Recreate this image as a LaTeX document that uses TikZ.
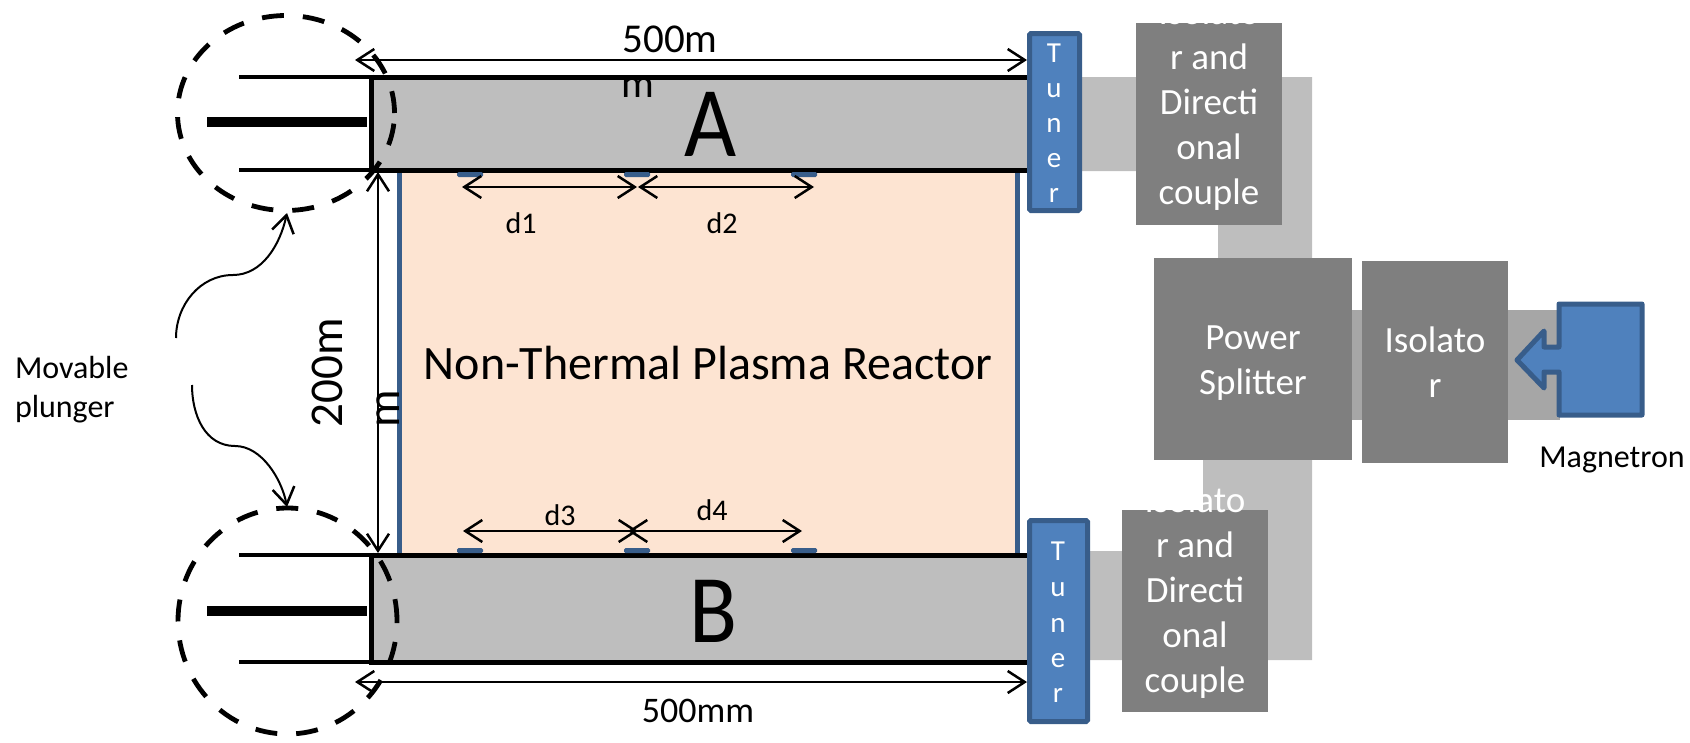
\documentclass[tikz,border=0pt]{standalone}
\usepackage{fontspec}
\setmainfont{Carlito}
\usetikzlibrary{arrows.meta,shapes.geometric}
\definecolor{guide}{HTML}{BEBEBE}
\definecolor{guidedark}{HTML}{A6A6A6}
\definecolor{boxgray}{HTML}{7F7F7F}
\definecolor{blfill}{HTML}{4F81BD}
\definecolor{blline}{HTML}{385D8A}
\definecolor{reactor}{HTML}{FDE4D2}
\newcommand{\fs}[1]{\fontsize{#1pt}{#1pt}\selectfont}
\tikzset{
  x=1pt,y=-1pt,
  txt/.style={inner sep=0pt,outer sep=0pt,anchor=base},
  graybox/.style={fill=boxgray,draw=none},
  guidefill/.style={fill=guide,draw=none},
  tunerbox/.style={fill=blfill,draw=blline,line width=5pt,rounded corners=1.5pt},
  sensor/.style={fill=blline,draw=none,rounded corners=1.5pt},
  wall/.style={line width=5pt,draw=black},
  thinwall/.style={line width=4pt,draw=black},
  bar/.style={line width=10pt,draw=black},
  dim/.style={line width=2pt,draw=black,{Straight Barb[length=17pt,width=22pt,line width=2.5pt]}-{Straight Barb[length=17pt,width=22pt,line width=2.5pt]}},
  curvearrow/.style={line width=2pt,draw=black,-{Straight Barb[length=17pt,width=22pt,line width=2.5pt]}},
  plunger/.style={shape=ellipse,draw=black,line width=4.8pt,dash pattern=on 22pt off 19pt,inner sep=0pt,fill=none},
  isotext/.style={inner sep=0pt,outer sep=0pt,text=white,align=center,font=\fontsize{37pt}{45pt}\selectfont},
  tunertext/.style={txt,text=white,font=\fs{29}},
  small/.style={txt,font=\fs{30}},
}
\begin{document}
\begin{tikzpicture}
\useasboundingbox (0,0) rectangle (1690,742);
% guides
\fill[guide] (1030,77) -- (1312,77) -- (1312,258) -- (1218,258) -- (1218,171) -- (1030,171) -- cycle;
\fill[guide] (1030,551) -- (1203,551) -- (1203,460) -- (1312,460) -- (1312,660) -- (1030,660) -- cycle;
\fill[guidedark] (1345,310) rectangle (1560,420);
% reactor
\fill[reactor] (399,170) rectangle (1017,555);
\draw[blline,line width=5pt] (399,170) -- (399,555) (1017,170) -- (1017,555);
% waveguides
\fill[guide] (371,77) rectangle (1030,170);
\fill[guide] (371,555) rectangle (1030,662);
\draw[wall] (371,77) -- (1030,77);
\draw[wall] (371,170) -- (1030,170);
\draw[wall] (371,555) -- (1030,555);
\draw[wall] (371,662) -- (1030,662);
\draw[wall] (371,74.5) -- (371,172.5);
\draw[wall] (371,552.5) -- (371,664.5);
\draw[thinwall] (239,77) -- (371,77) (239,170) -- (371,170);
\draw[thinwall] (239,555) -- (371,555) (239,662) -- (371,662);
\draw[bar] (207,122) -- (367,122);
\draw[bar] (207,611) -- (367,611);
% sensors
\foreach \xx in {457,624,791}{
  \fill[sensor] (\xx,172) rectangle (\xx+26,177);
  \fill[sensor] (\xx,548) rectangle (\xx+26,553);
}
% boxes
\node[graybox,anchor=north west,minimum width=146pt,minimum height=202pt,inner sep=0pt] (isoA) at (1136,23) {};
\node[graybox,anchor=north west,minimum width=146pt,minimum height=202pt,inner sep=0pt] (isoB) at (1122,510) {};
\node[graybox,anchor=north west,minimum width=198pt,minimum height=202pt,inner sep=0pt] (split) at (1154,258) {};
\node[graybox,anchor=north west,minimum width=146pt,minimum height=202pt,inner sep=0pt] (iso) at (1362,261) {};
\node[tunerbox,anchor=north west,minimum width=50pt,minimum height=177pt,inner sep=0pt] (tunA) at (1027,31) {};
\node[tunerbox,anchor=north west,minimum width=58pt,minimum height=201pt,inner sep=0pt] (tunB) at (1027,518) {};
% magnetron
\draw[blline,line width=5pt,fill=blfill,line join=round] (1559,304) -- (1642,304) -- (1642,415) -- (1559,415) -- (1559,372) -- (1544,372) -- (1544,388) -- (1517,360) -- (1544,331) -- (1544,347) -- (1559,347) -- cycle;
% plungers
\node[plunger,minimum width=217pt,minimum height=195pt] (plA) at (286,113) {};
\node[plunger,minimum width=219pt,minimum height=226pt] (plB) at (287.5,621) {};
% dimension coordinates
\coordinate (t1) at (355,60); \coordinate (t2) at (1027,60);
\coordinate (b1) at (355,682); \coordinate (b2) at (1027,682);
\coordinate (v1) at (378,172); \coordinate (v2) at (378,553);
\coordinate (d1a) at (462,187); \coordinate (d1b) at (637,187);
\coordinate (d2a) at (638,187); \coordinate (d2b) at (814,187);
\coordinate (d3a) at (463,531); \coordinate (d3b) at (638,531);
\coordinate (d4a) at (628,531); \coordinate (d4b) at (802,531);
\draw[dim] (t1) -- (t2);
\draw[dim] (b1) -- (b2);
\draw[dim] (v1) -- (v2);
\draw[dim] (d1a) -- (d1b);
\draw[dim] (d2a) -- (d2b);
\draw[dim] (d3a) -- (d3b);
\draw[dim] (d4a) -- (d4b);
% curved arrows
\coordinate (cA0) at (176,338); \coordinate (cA1) at (233,275); \coordinate (cA2) at (287,213);
\coordinate (cB0) at (192,385); \coordinate (cB1) at (235,446); \coordinate (cB2) at (287,507);
\draw[curvearrow] (cA0) .. controls (176,305) and (200,275) .. (cA1) .. controls (262,275) and (280,245) .. (cA2);
\draw[curvearrow] (cB0) .. controls (192,415) and (205,446) .. (cB1) .. controls (262,446) and (282,480) .. (cB2);
% text
\node[txt,font=\fs{41}] (t500a) at (670,52) {500m};
\node[txt,font=\fs{41}] (t500b) at (638,97) {m};
\node[txt,font=\fs{36}] (t500c) at (698,722) {500mm};
\node[txt,font=\fs{47},rotate=90,anchor=base west] (t200a) at (342,427) {200m};
\node[txt,font=\fs{47},rotate=90,anchor=base west] (t200b) at (399,427) {m};
\node[txt,font=\fs{100},xscale=0.9] (lA) at (711,156) {A};
\node[txt,font=\fs{97},xscale=0.91] (lB) at (713,642) {B};
\node[txt,font=\fs{48}] (title) at (708,379) {Non-Thermal Plasma Reactor};
\node[small] (d1) at (521,233) {d1};
\node[small] (d2) at (722,233) {d2};
\node[small] (d3) at (560,525) {d3};
\node[small] (d4) at (712,520) {d4};
\node[txt,anchor=base west,font=\fs{32}] (mov) at (15,378) {Movable};
\node[txt,anchor=base west,font=\fs{32}] (plu) at (15,417) {plunger};
\node[txt,font=\fs{32}] (mag) at (1612,467) {Magnetron};
\node[isotext] (isoAt) at (1209,105) {Isolato\\r and\\Directi\\onal\\couple};
\node[isotext] (isoBt) at (1195,593) {Isolato\\r and\\Directi\\onal\\couple};
\node[isotext] (splitt) at (1253,363) {Power\\Splitter};
\node[isotext] (isot) at (1435,362) {Isolato\\r};
\foreach \y/\c [count=\i] in {62/T,97/u,132/n,167/e,202/r}{\node[tunertext] (tA\i) at (1054,\y) {\c};}
\foreach \y/\c [count=\i] in {560/T,596/u,632/n,667/e,702/r}{\node[tunertext] (tB\i) at (1058,\y) {\c};}
\end{tikzpicture}
\end{document}
